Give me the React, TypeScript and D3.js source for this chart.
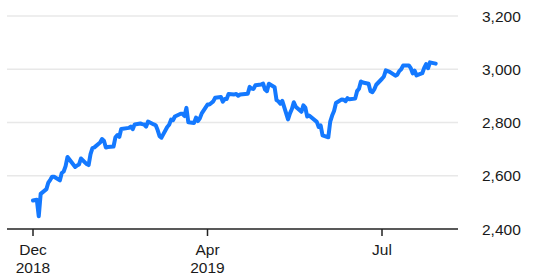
import React from "react";
import * as d3 from "d3";

const dates: string[] = [
  "2018-12-31","2019-01-02","2019-01-03","2019-01-04","2019-01-07","2019-01-08","2019-01-09","2019-01-10","2019-01-11",
  "2019-01-14","2019-01-15","2019-01-16","2019-01-17","2019-01-18","2019-01-22","2019-01-23","2019-01-24","2019-01-25",
  "2019-01-28","2019-01-29","2019-01-30","2019-01-31","2019-02-01","2019-02-04","2019-02-05","2019-02-06","2019-02-07",
  "2019-02-08","2019-02-11","2019-02-12","2019-02-13","2019-02-14","2019-02-15","2019-02-19","2019-02-20","2019-02-21",
  "2019-02-22","2019-02-25","2019-02-26","2019-02-27","2019-02-28","2019-03-01","2019-03-04","2019-03-05","2019-03-06",
  "2019-03-07","2019-03-08","2019-03-11","2019-03-12","2019-03-13","2019-03-14","2019-03-15","2019-03-18","2019-03-19",
  "2019-03-20","2019-03-21","2019-03-22","2019-03-25","2019-03-26","2019-03-27","2019-03-28","2019-03-29","2019-04-01",
  "2019-04-02","2019-04-03","2019-04-04","2019-04-05","2019-04-08","2019-04-09","2019-04-10","2019-04-11","2019-04-12",
  "2019-04-15","2019-04-16","2019-04-17","2019-04-18","2019-04-22","2019-04-23","2019-04-24","2019-04-25","2019-04-26",
  "2019-04-29","2019-04-30","2019-05-01","2019-05-02","2019-05-03","2019-05-06","2019-05-07","2019-05-08","2019-05-09",
  "2019-05-10","2019-05-13","2019-05-14","2019-05-15","2019-05-16","2019-05-17","2019-05-20","2019-05-21","2019-05-22",
  "2019-05-23","2019-05-24","2019-05-28","2019-05-29","2019-05-30","2019-05-31","2019-06-03","2019-06-04","2019-06-05",
  "2019-06-06","2019-06-07","2019-06-10","2019-06-11","2019-06-12","2019-06-13","2019-06-14","2019-06-17","2019-06-18",
  "2019-06-19","2019-06-20","2019-06-21","2019-06-24","2019-06-25","2019-06-26","2019-06-27","2019-06-28","2019-07-01",
  "2019-07-02","2019-07-03","2019-07-05","2019-07-08","2019-07-09","2019-07-10","2019-07-11","2019-07-12","2019-07-15",
  "2019-07-16","2019-07-17","2019-07-18","2019-07-19","2019-07-22","2019-07-23","2019-07-24","2019-07-25","2019-07-26",
  "2019-07-29"
];

const values: number[] = [
  2506.85,2510.03,2447.89,2531.94,2549.69,2574.41,2584.96,2596.64,2596.26,
  2582.61,2610.30,2616.10,2635.96,2670.71,2632.90,2638.70,2642.33,2664.76,
  2643.85,2640.00,2681.05,2704.10,2706.53,2724.87,2737.70,2731.61,2706.05,
  2707.88,2709.80,2744.73,2753.03,2745.73,2775.60,2779.76,2784.70,2774.88,
  2792.67,2796.11,2793.90,2792.38,2784.49,2803.69,2792.81,2789.65,2771.45,
  2748.93,2743.07,2783.30,2791.52,2810.92,2808.48,2822.48,2832.94,2832.57,
  2824.23,2854.88,2800.71,2798.36,2818.46,2805.37,2815.44,2834.40,2867.19,
  2867.24,2873.40,2879.39,2892.74,2895.77,2878.20,2888.21,2888.32,2907.41,
  2905.58,2907.06,2900.45,2905.03,2907.97,2933.68,2927.25,2926.17,2939.88,
  2943.03,2945.83,2923.73,2917.52,2945.64,2932.47,2884.05,2879.42,2870.72,
  2881.40,2811.87,2834.41,2850.96,2876.32,2859.53,2840.23,2864.36,2856.27,
  2822.24,2826.06,2802.39,2783.02,2788.86,2752.06,2744.45,2803.27,2826.15,
  2843.49,2873.34,2886.73,2885.72,2879.84,2891.64,2886.98,2889.67,2917.75,
  2926.46,2954.18,2950.46,2945.35,2917.38,2913.78,2924.92,2941.76,2964.33,
  2973.01,2995.82,2990.41,2975.95,2979.63,2993.07,2999.91,3013.77,3014.30,
  3004.04,2984.42,2995.11,2976.61,2985.03,3005.47,3019.56,3003.67,3025.86,
  3020.97
];

const yTicks: number[] = [2400, 2600, 2800, 3000, 3200];
const xTickDates: string[] = ["2018-12-31", "2019-04-01", "2019-07-01"];
const xTickLabels: string[][] = [["Dec", "2018"], ["Apr", "2019"], ["Jul"]];

const W = 533;
const H = 280;
const FONT = "'Liberation Sans', Arial, Helvetica, sans-serif";

export default function App() {
  const parse = (s: string) => new Date(s + "T00:00:00Z");
  const t0 = parse(xTickDates[0]);
  const t2 = parse(xTickDates[2]);
  const xTicksPx: [number, number] = [33, 382];
  const pxPerMs = (xTicksPx[1] - xTicksPx[0]) / (t2.getTime() - t0.getTime());
  const left = 7;
  const right = 458;
  const d0 = new Date(t0.getTime() - (xTicksPx[0] - left) / pxPerMs);
  const d1 = new Date(t0.getTime() + (right - xTicksPx[0]) / pxPerMs);
  const x = d3.scaleUtc().domain([d0, d1]).range([left, right]);
  const y = d3.scaleLinear().domain([2400, 3200]).range([229, 16]);

  const pts = dates.map((d, i) => ({ d: parse(d), v: values[i] }));
  const line = d3
    .line<{ d: Date; v: number }>()
    .x((p) => x(p.d))
    .y((p) => y(p.v));

  return (
    <svg
      width={W}
      height={H}
      style={{ position: "absolute", left: 0, top: 0, background: "#fff" }}
    >
      {yTicks
        .filter((t) => t !== 2400)
        .map((t) => (
          <line
            key={t}
            x1={left}
            x2={right}
            y1={y(t)}
            y2={y(t)}
            stroke="#e8e8e8"
            strokeWidth={1.5}
          />
        ))}
      {yTicks.map((t) => (
        <text
          key={"l" + t}
          x={482}
          y={y(t) + 5.5}
          fontFamily={FONT}
          fontSize={15.5}
          fill="#1a1a1a"
        >
          {d3.format(",")(t)}
        </text>
      ))}
      <path
        d={line(pts) || ""}
        fill="none"
        stroke="#1479ff"
        strokeWidth={4}
        strokeLinejoin="round"
        strokeLinecap="round"
      />
      <line x1={left} x2={right} y1={y(2400)} y2={y(2400)} stroke="#222" strokeWidth={1.5} />
      {xTickDates.map((d, i) => {
        const px = x(parse(d));
        return (
          <g key={d}>
            <line x1={px} x2={px} y1={y(2400)} y2={y(2400) + 7} stroke="#222" strokeWidth={1.5} />
            {xTickLabels[i].map((s, j) => (
              <text
                key={s}
                x={px}
                y={255 + j * 18}
                textAnchor="middle"
                fontFamily={FONT}
                fontSize={15.5}
                fill="#1a1a1a"
              >
                {s}
              </text>
            ))}
          </g>
        );
      })}
    </svg>
  );
}
